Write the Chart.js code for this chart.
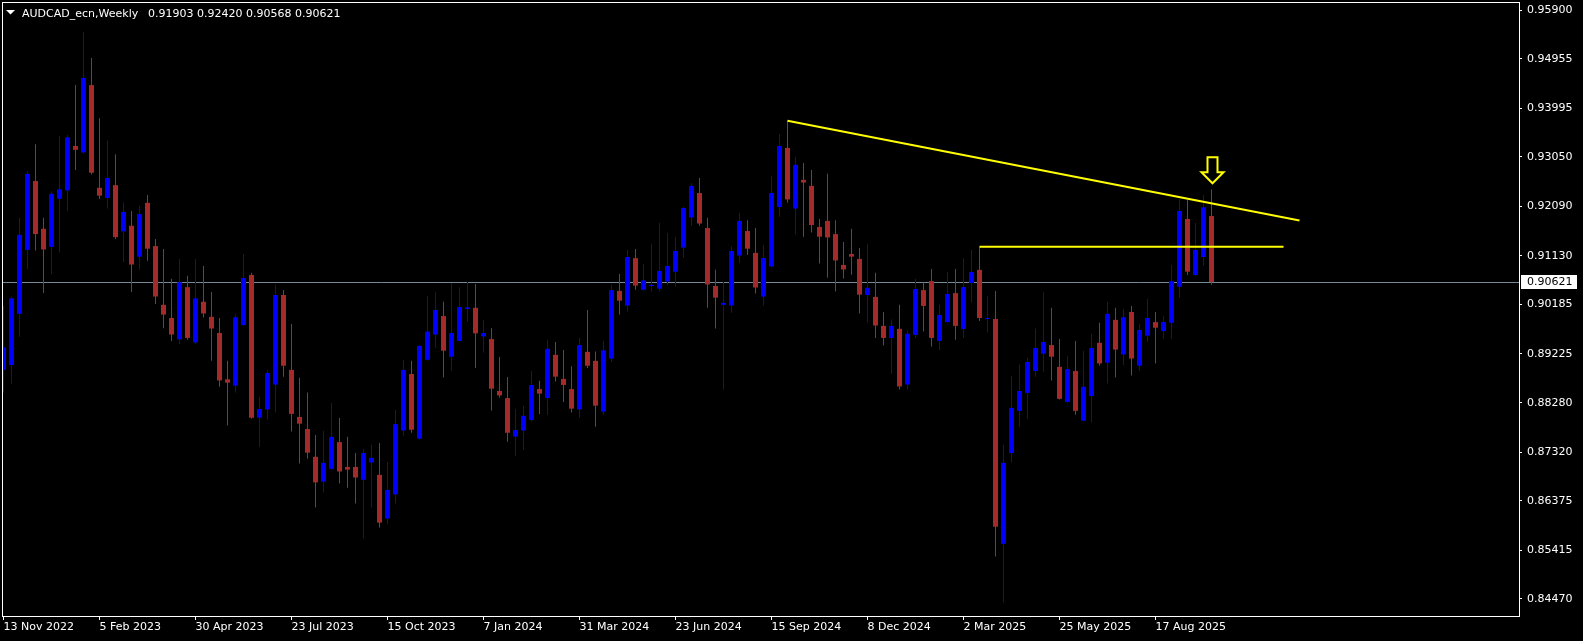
<!DOCTYPE html>
<html>
<head>
<meta charset="utf-8">
<title>AUDCAD_ecn,Weekly</title>
<script src="https://cdn.jsdelivr.net/npm/chart.js@4.4.1/dist/chart.umd.min.js"></script>
<style>
  html, body { margin: 0; padding: 0; background: #000; }
  #wrap { width: 1583px; height: 641px; }
</style>
</head>
<body>
<div id="wrap"><canvas id="chart" width="1583" height="641"></canvas></div>
<script>
// weekly candles, the first one is the week of 13 Nov 2022
var opens = [
  0.88916, 0.89011, 0.90005, 0.91247, 0.92583, 0.91656, 0.91305, 0.92240, 0.92401, 0.93263,
  0.93139, 0.94446, 0.92452, 0.92255, 0.92503, 0.91605, 0.91714, 0.91115, 0.92160, 0.91320,
  0.90180, 0.89924, 0.89508, 0.90523, 0.89450, 0.90239, 0.89946, 0.89632, 0.88734, 0.88610,
  0.89786, 0.90757, 0.87989, 0.88149, 0.88632, 0.90370, 0.88916, 0.88003, 0.87769, 0.87229,
  0.86747, 0.86995, 0.87514, 0.87032, 0.87032, 0.86783, 0.87119, 0.86878, 0.86031, 0.86498,
  0.87740, 0.88836, 0.87580, 0.89114, 0.89603, 0.89961, 0.89172, 0.89479, 0.90100, 0.90122,
  0.89566, 0.89515, 0.88507, 0.88369, 0.87623, 0.87740, 0.87945, 0.88544, 0.88369, 0.89209,
  0.88741, 0.88544, 0.88149, 0.89267, 0.89092, 0.88106, 0.89136, 0.90450, 0.90166, 0.91086,
  0.90472, 0.90545, 0.90494, 0.90633, 0.90823, 0.91291, 0.91875, 0.92350, 0.91670, 0.90545,
  0.90180, 0.90166, 0.91137, 0.91612, 0.91188, 0.90341, 0.90925, 0.92079, 0.93226, 0.92050,
  0.92605, 0.92489, 0.91692, 0.91809, 0.91553, 0.90954, 0.91166, 0.91071, 0.90370, 0.90334,
  0.89771, 0.89537, 0.89713, 0.88632, 0.89596, 0.90465, 0.90640, 0.89479, 0.89844, 0.90407,
  0.89713, 0.90604, 0.90859, 0.89903, 0.89903, 0.85541, 0.87302, 0.88120, 0.88471, 0.88894,
  0.89231, 0.89398, 0.88975, 0.88295, 0.88894, 0.87930, 0.88410, 0.89442, 0.89055, 0.89888,
  0.89216, 0.90041, 0.88997, 0.89581, 0.89844, 0.89669, 0.89830, 0.90532, 0.91846, 0.90759,
  0.91108, 0.91903
];
var highs = [
  0.90158, 0.90341, 0.91868, 0.92773, 0.93299, 0.91868, 0.92386, 0.93460, 0.93475, 0.94446,
  0.95476, 0.94972, 0.93803, 0.93372, 0.93102, 0.92167, 0.91999, 0.92101, 0.92313, 0.91459,
  0.91261, 0.90684, 0.91071, 0.90743, 0.91071, 0.90933, 0.90429, 0.89924, 0.89092, 0.89990,
  0.91166, 0.90801, 0.88390, 0.88916, 0.90567, 0.90465, 0.89808, 0.88763, 0.88478, 0.87653,
  0.87733, 0.88273, 0.87981, 0.87616, 0.87302, 0.87382, 0.87463, 0.87499, 0.87127, 0.88142,
  0.89114, 0.89092, 0.89384, 0.90355, 0.90429, 0.90239, 0.90604, 0.90523, 0.90633, 0.90582,
  0.89888, 0.89727, 0.89165, 0.88778, 0.88157, 0.88222, 0.88894, 0.88705, 0.89501, 0.89457,
  0.89304, 0.88989, 0.89537, 0.90078, 0.89274, 0.89479, 0.90567, 0.90779, 0.91247, 0.91261,
  0.90976, 0.91364, 0.91773, 0.91575, 0.91495, 0.92079, 0.92540, 0.92642, 0.91868, 0.90859,
  0.90633, 0.91312, 0.91963, 0.91824, 0.91670, 0.91342, 0.92678, 0.93497, 0.93752, 0.93051,
  0.92934, 0.92795, 0.91846, 0.92722, 0.91824, 0.91400, 0.91656, 0.91283, 0.91364, 0.90801,
  0.90041, 0.89895, 0.90180, 0.89683, 0.90684, 0.90611, 0.90874, 0.90180, 0.90816, 0.90874,
  0.91086, 0.91247, 0.91298, 0.90348, 0.90450, 0.87463, 0.88800, 0.89019, 0.89150, 0.89720,
  0.90429, 0.90122, 0.89515, 0.89187, 0.89479, 0.89282, 0.89618, 0.89830, 0.90239, 0.90122,
  0.90100, 0.90158, 0.89808, 0.90297, 0.90041, 0.89961, 0.90954, 0.92234, 0.92215, 0.91775,
  0.92312, 0.92420
];
var lows = [
  0.88478, 0.88646, 0.89559, 0.90874, 0.91232, 0.90407, 0.90772, 0.91196, 0.91999, 0.92795,
  0.93120, 0.92708, 0.92233, 0.92050, 0.91459, 0.91013, 0.90429, 0.90867, 0.91035, 0.90195,
  0.89727, 0.89479, 0.89420, 0.89501, 0.89420, 0.89932, 0.89092, 0.88588, 0.87835, 0.88478,
  0.89771, 0.87967, 0.87426, 0.87952, 0.88091, 0.88785, 0.87718, 0.87097, 0.87192, 0.86243,
  0.86535, 0.86980, 0.86710, 0.86630, 0.86323, 0.85644, 0.86243, 0.85856, 0.85921, 0.86323,
  0.87638, 0.87696, 0.87565, 0.89100, 0.89347, 0.88770, 0.88902, 0.89470, 0.89851, 0.88953,
  0.89252, 0.88127, 0.88376, 0.87521, 0.87244, 0.87360, 0.87916, 0.88062, 0.88047, 0.88690,
  0.88295, 0.88091, 0.87989, 0.88953, 0.87813, 0.88047, 0.89070, 0.89990, 0.90049, 0.90472,
  0.90460, 0.90436, 0.90443, 0.90553, 0.90531, 0.91093, 0.91714, 0.91714, 0.90122, 0.89720,
  0.88537, 0.90027, 0.90998, 0.91152, 0.90399, 0.90166, 0.90910, 0.91890, 0.92167, 0.91546,
  0.91502, 0.91583, 0.90984, 0.90706, 0.90436, 0.90691, 0.90765, 0.90012, 0.89837, 0.89537,
  0.89391, 0.88843, 0.88537, 0.88537, 0.89537, 0.89661, 0.89369, 0.89304, 0.89830, 0.89501,
  0.89537, 0.90224, 0.89866, 0.89640, 0.85293, 0.84402, 0.87119, 0.87813, 0.87967, 0.88785,
  0.88880, 0.88712, 0.88339, 0.88280, 0.88047, 0.87920, 0.87894, 0.88997, 0.88653, 0.88770,
  0.89004, 0.88807, 0.88902, 0.89464, 0.89041, 0.89523, 0.89523, 0.90318, 0.90759, 0.90746,
  0.90940, 0.90568
];
var closes = [
  0.89355, 0.90304, 0.91539, 0.92722, 0.91553, 0.91254, 0.92335, 0.92423, 0.93431, 0.93190,
  0.94585, 0.92744, 0.92299, 0.92642, 0.91495, 0.91984, 0.90962, 0.91941, 0.91269, 0.90341,
  0.89990, 0.89603, 0.90618, 0.89537, 0.90304, 0.90012, 0.89720, 0.88712, 0.88668, 0.89939,
  0.90699, 0.87989, 0.88157, 0.88858, 0.90370, 0.88997, 0.88062, 0.87872, 0.87309, 0.86732,
  0.87112, 0.87616, 0.86944, 0.86980, 0.86827, 0.87302, 0.87207, 0.85951, 0.86586, 0.87864,
  0.88916, 0.87755, 0.89384, 0.89661, 0.90078, 0.89289, 0.89632, 0.90136, 0.90129, 0.89625,
  0.89632, 0.88551, 0.88420, 0.87696, 0.87748, 0.88025, 0.88624, 0.88456, 0.89325, 0.88785,
  0.88624, 0.88164, 0.89398, 0.88997, 0.88222, 0.89296, 0.90465, 0.90260, 0.91108, 0.90553,
  0.90655, 0.90567, 0.90838, 0.90933, 0.91225, 0.92058, 0.92489, 0.91758, 0.90575, 0.90319,
  0.90217, 0.91225, 0.91809, 0.91269, 0.90516, 0.91086, 0.92350, 0.93263, 0.92226, 0.92898,
  0.92554, 0.91729, 0.91502, 0.91488, 0.91042, 0.90867, 0.91115, 0.90377, 0.90509, 0.89778,
  0.89537, 0.89771, 0.88595, 0.89618, 0.90487, 0.90158, 0.89537, 0.89983, 0.90392, 0.89771,
  0.90523, 0.90816, 0.89924, 0.89924, 0.85870, 0.87112, 0.88179, 0.88507, 0.89070, 0.89340,
  0.89457, 0.89172, 0.88354, 0.88931, 0.88120, 0.88588, 0.89340, 0.89041, 0.90005, 0.89311,
  0.89939, 0.89136, 0.89691, 0.89924, 0.89735, 0.89844, 0.90640, 0.92001, 0.90823, 0.91244,
  0.92073, 0.90621
];

var symbolName = 'AUDCAD_ecn,Weekly';
// date labels, one every 12 weeks starting at the first candle
var xTickLabels = ['13 Nov 2022', '5 Feb 2023', '30 Apr 2023', '23 Jul 2023', '15 Oct 2023',
  '7 Jan 2024', '31 Mar 2024', '23 Jun 2024', '15 Sep 2024', '8 Dec 2024', '2 Mar 2025',
  '25 May 2025', '17 Aug 2025'];
var xTickStep = 12;
var yTickValues = [0.95900, 0.94955, 0.93995, 0.93050, 0.92090, 0.91130, 0.90185,
  0.89225, 0.88280, 0.87320, 0.86375, 0.85415, 0.84470];

// objects drawn on the chart (bar index, price)
var trendLine = [{x: 98, y: 0.93752}, {x: 162, y: 0.91817}];
var levelLine = [{x: 122, y: 0.91305}, {x: 160, y: 0.91305}];
var arrowMark = {x: 151, y: 0.92540};

var UP = '#0000FF';
var DOWN = '#A52A2A';
var FONT = '"DejaVu Sans", sans-serif';

var n = closes.length;
var wickData = [];
var bodyData = [];
for (var i = 0; i < n; i++) {
    wickData.push({x: i, y: [lows[i], highs[i]]});
    bodyData.push({x: i, y: [opens[i], closes[i]]});
}

function candleColor(ctx) {
    var i = ctx.dataIndex;
    return closes[i] >= opens[i] ? UP : DOWN;
}

var mtDecor = {
    id: 'mtDecor',
    beforeDraw: function(chart) {
        var ctx = chart.ctx;
        ctx.save();
        ctx.fillStyle = '#000';
        ctx.fillRect(0, 0, chart.width, chart.height);
        ctx.restore();
    },
    beforeDatasetsDraw: function(chart) {
        // bid line
        var ctx = chart.ctx, a = chart.chartArea;
        var y = Math.round(chart.scales.y.getPixelForValue(closes[n - 1])) + 0.5;
        ctx.save();
        ctx.strokeStyle = '#778899';
        ctx.lineWidth = 1;
        ctx.beginPath();
        ctx.moveTo(a.left, y);
        ctx.lineTo(a.right, y);
        ctx.stroke();
        ctx.restore();
    },
    afterDraw: function(chart) {
        var ctx = chart.ctx, a = chart.chartArea;
        var xs = chart.scales.x, ys = chart.scales.y;
        ctx.save();

        // frame
        ctx.strokeStyle = '#fff';
        ctx.lineWidth = 1;
        ctx.strokeRect(a.left + 0.5, a.top + 0.5, a.right - a.left, a.bottom - a.top);

        // title
        ctx.fillStyle = '#fff';
        ctx.beginPath();
        ctx.moveTo(6, 10);
        ctx.lineTo(15, 10);
        ctx.lineTo(10.5, 14.5);
        ctx.closePath();
        ctx.fill();
        ctx.font = '11px ' + FONT;
        ctx.textBaseline = 'alphabetic';
        ctx.textAlign = 'left';
        ctx.fillText(symbolName, 22, 17);
        var last = n - 1;
        ctx.fillText([opens[last], highs[last], lows[last], closes[last]].map(function(v) {
            return v.toFixed(5);
        }).join(' '), 148, 17);

        // arrow above the last bar
        var cx = Math.round(xs.getPixelForValue(arrowMark.x)) + 0.5;
        var ty = ys.getPixelForValue(arrowMark.y);
        ctx.beginPath();
        ctx.moveTo(cx - 5, ty - 26);
        ctx.lineTo(cx + 5, ty - 26);
        ctx.lineTo(cx + 5, ty - 11);
        ctx.lineTo(cx + 11, ty - 11);
        ctx.lineTo(cx, ty);
        ctx.lineTo(cx - 11, ty - 11);
        ctx.lineTo(cx - 5, ty - 11);
        ctx.closePath();
        ctx.strokeStyle = '#FFFF00';
        ctx.lineWidth = 2;
        ctx.stroke();

        // current price tag
        var py = Math.round(ys.getPixelForValue(closes[last]));
        ctx.fillStyle = '#fff';
        ctx.fillRect(a.right + 2, py - 7, 56, 14);
        ctx.fillStyle = '#000';
        ctx.textBaseline = 'middle';
        ctx.fillText(closes[last].toFixed(5), a.right + 8, py + 0.5);

        ctx.restore();
    }
};

new Chart(document.getElementById('chart'), {
    type: 'bar',
    data: {
        datasets: [
            {
                type: 'line',
                data: trendLine,
                borderColor: '#FFFF00',
                borderWidth: 2,
                pointRadius: 0,
                order: 0
            },
            {
                type: 'line',
                data: levelLine,
                borderColor: '#FFFF00',
                borderWidth: 2,
                pointRadius: 0,
                order: 0
            },
            {
                data: bodyData,
                backgroundColor: candleColor,
                barThickness: 5,
                grouped: false,
                borderWidth: 0,
                inflateAmount: 0,
                minBarLength: 1,
                order: 1
            },
            {
                data: wickData,
                backgroundColor: candleColor,
                barThickness: 1,
                grouped: false,
                borderWidth: 0,
                inflateAmount: 0,
                order: 2
            }
        ]
    },
    options: {
        responsive: false,
        devicePixelRatio: 1,
        animation: false,
        events: [],
        layout: { padding: { left: 2, top: 2, right: 0, bottom: 0 } },
        plugins: {
            legend: { display: false },
            tooltip: { enabled: false }
        },
        scales: {
            x: {
                type: 'linear',
                min: -0.1875,
                max: 189.4375,
                offset: false,
                border: { display: false },
                grid: { display: true, offset: false, drawOnChartArea: false, tickLength: 4, color: '#fff' },
                ticks: {
                    autoSkip: false,
                    maxRotation: 0,
                    align: 'start',
                    padding: 1,
                    color: '#fff',
                    font: { family: FONT, size: 11 },
                    callback: function(value) {
                        return xTickLabels[Math.round(value / xTickStep)];
                    }
                },
                afterBuildTicks: function(scale) {
                    scale.ticks = xTickLabels.map(function(_, k) {
                        return { value: k * xTickStep };
                    });
                },
                afterFit: function(scale) {
                    scale.height = 25;
                    scale.paddingLeft = 0;
                    scale.paddingRight = 0;
                }
            },
            y: {
                position: 'right',
                min: 0.84138,
                max: 0.96059,
                border: { display: false },
                grid: { display: true, drawOnChartArea: false, tickLength: 3, color: '#fff' },
                ticks: {
                    autoSkip: false,
                    padding: 5,
                    color: '#fff',
                    font: { family: FONT, size: 11 },
                    callback: function(value) {
                        return value.toFixed(5);
                    }
                },
                afterBuildTicks: function(scale) {
                    scale.ticks = yTickValues.map(function(v) {
                        return { value: v };
                    });
                },
                afterFit: function(scale) {
                    scale.width = 64;
                    scale.paddingTop = 0;
                    scale.paddingBottom = 0;
                }
            }
        }
    },
    plugins: [mtDecor]
});
</script>
</body>
</html>
